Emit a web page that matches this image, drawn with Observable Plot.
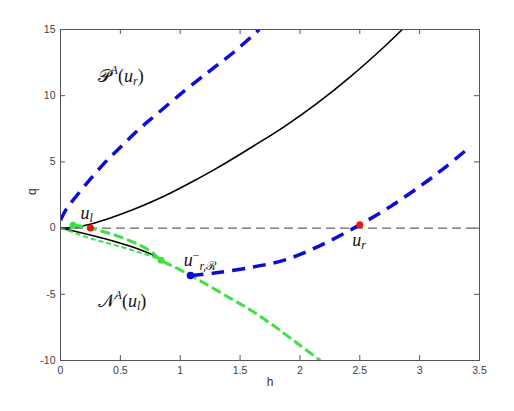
<!DOCTYPE html>
<html><head><meta charset="utf-8">
<script src="https://cdn.jsdelivr.net/npm/d3@7"></script>
<script src="https://cdn.jsdelivr.net/npm/@observablehq/plot@0.6"></script>
<style>body{margin:0;background:#fff}</style>
</head><body><div id="chart"></div>
<script>
// ---- data ----
const xTicks = [0, 0.5, 1, 1.5, 2, 2.5, 3, 3.5];
const yTicks = [-10, -5, 0, 5, 10, 15];

const blackUpperH = [0, 0.1, 0.24, 0.38, 0.515, 0.7, 0.877, 1.1, 1.31, 1.63, 1.87, 2.14, 2.42, 2.7, 2.855];
const blackUpperQ = [0, 0.05, 0.27, 0.65, 1.08, 1.75, 2.46, 3.5, 4.55, 6.3, 7.67, 9.4, 11.42, 13.66, 15];

const blackLowerH = [0, 0.1, 0.24, 0.38, 0.515, 0.654, 0.76, 0.84];
const blackLowerQ = [0, -0.2, -0.5, -0.83, -1.19, -1.6, -1.97, -2.36];

const greenThinH = [0, 0.1, 0.24, 0.38, 0.515, 0.654, 0.79, 0.84];
const greenThinQ = [0, -0.3, -0.75, -1.1, -1.44, -1.82, -2.22, -2.4];

const greenThickH = [0.105, 0.18, 0.25, 0.376, 0.515, 0.654, 0.76, 0.84, 1.0, 1.086, 1.2, 1.4, 1.59, 1.8, 2.0, 2.17];
const greenThickQ = [0.22, 0.14, 0, -0.31, -0.72, -1.25, -1.8, -2.42, -3.15, -3.58, -4.15, -5.2, -6.2, -7.5, -8.85, -10];

const blueUpperH = [0, 0.05, 0.125, 0.24, 0.376, 0.515, 0.654, 0.79, 1.04, 1.25, 1.45, 1.66];
const blueUpperQ = [0.6, 1.45, 2.33, 3.6, 5.0, 6.24, 7.45, 8.5, 10.4, 11.9, 13.3, 15];

const blueLowerH = [1.086, 1.3, 1.6, 1.87, 2.15, 2.45, 2.75, 3.01, 3.2, 3.43];
const blueLowerQ = [-3.58, -3.38, -2.95, -2.42, -1.4, 0, 1.6, 3.2, 4.5, 6.2];

const redPtsH = [0.25, 2.5];
const redPtsQ = [0, 0.25];
const greenPtsH = [0.105, 0.84];
const greenPtsQ = [0.22, -2.42];
const bluePtsH = [1.086];
const bluePtsQ = [-3.58];

const labels = [
  {id: "lblP", h: 0.31, q: 11.5},
  {id: "lblN", h: 0.31, q: -5.55},
  {id: "lblUl", h: 0.167, q: 1.15},
  {id: "lblUr", h: 2.437, q: -0.9},
  {id: "lblUbar", h: 1.03, q: -2.45}
];
const labelMarkup = {
  lblP: '𝒫<tspan font-size="12" font-style="italic" dy="-8">A</tspan><tspan dy="8">(</tspan><tspan font-style="italic">u</tspan><tspan font-size="12" font-style="italic" dy="3">r</tspan><tspan dy="-3">)</tspan>',
  lblN: '𝒩<tspan font-size="12" font-style="italic" dy="-8">A</tspan><tspan dy="8">(</tspan><tspan font-style="italic">u</tspan><tspan font-size="12" font-style="italic" dy="3">l</tspan><tspan dy="-3">)</tspan>',
  lblUl: '<tspan font-style="italic">u</tspan><tspan font-size="12" font-style="italic" dy="3">l</tspan>',
  lblUr: '<tspan font-style="italic">u</tspan><tspan font-size="12" font-style="italic" dy="3">r</tspan>',
  lblUbar: '<tspan font-style="italic">u</tspan><tspan font-size="12" dy="-7">−</tspan><tspan font-size="12" font-style="italic" dy="11">r,</tspan><tspan font-size="12">ℛ</tspan>'
};

const pts = (H, Q) => H.map((h, i) => ({h, q: Q[i]}));

// ---- layout ----
const W = 514, HH = 411, mL = 60, mR = 35, mT = 29, mB = 51;
const innerW = W - mL - mR, innerH = HH - mT - mB;
const axisColor = "#555";
const blue = "#0c0cd6", green = "#3fe03f", red = "#ee1515";

const lineOpts = {x: "h", y: "q", curve: "catmull-rom", clip: true, strokeLinecap: "butt"};

const chart = Plot.plot({
  width: W, height: HH,
  marginLeft: mL, marginRight: mR, marginTop: mT, marginBottom: mB,
  x: {domain: [0, 3.5]},
  y: {domain: [-10, 15]},
  style: {fontFamily: "Liberation Sans, Arial, sans-serif", fontSize: "10.5px", color: "#404040", background: "white", overflow: "visible"},
  marks: [
    Plot.ruleY([0], {stroke: "#666", strokeWidth: 1.2, strokeDasharray: "9,5"}),
    Plot.line(pts(blackUpperH, blackUpperQ), {...lineOpts, stroke: "#000", strokeWidth: 1.6}),
    Plot.line(pts(blackLowerH, blackLowerQ), {...lineOpts, stroke: "#000", strokeWidth: 1.6}),
    Plot.line(pts(greenThinH, greenThinQ), {...lineOpts, stroke: green, strokeWidth: 2, strokeDasharray: "5,3"}),
    Plot.line(pts(greenThickH, greenThickQ), {...lineOpts, stroke: green, strokeWidth: 3, strokeDasharray: "10,4"}),
    Plot.line(pts(blueUpperH, blueUpperQ), {...lineOpts, stroke: blue, strokeWidth: 3.5, strokeDasharray: "13,8"}),
    Plot.line(pts(blueLowerH, blueLowerQ), {...lineOpts, stroke: blue, strokeWidth: 3.5, strokeDasharray: "13,8"}),
    Plot.dot(pts(greenPtsH, greenPtsQ), {x: "h", y: "q", r: 3.5, fill: green, stroke: "none"}),
    Plot.dot(pts(redPtsH, redPtsQ), {x: "h", y: "q", r: 3.5, fill: red, stroke: "none"}),
    Plot.dot(pts(bluePtsH, bluePtsQ), {x: "h", y: "q", r: 3.8, fill: blue, stroke: "none"}),
    Plot.frame({stroke: axisColor, strokeWidth: 1}),
    Plot.tickX(xTicks, {x: d => d, insetTop: innerH - 5, stroke: axisColor}),
    Plot.tickX(xTicks, {x: d => d, insetBottom: innerH - 5, stroke: axisColor}),
    Plot.tickY(yTicks, {y: d => d, insetRight: innerW - 5, stroke: axisColor}),
    Plot.tickY(yTicks, {y: d => d, insetLeft: innerW - 5, stroke: axisColor}),
    Plot.axisX(xTicks, {tickSize: 0, tickPadding: 6, label: null, tickFormat: d => String(d), fill: "#404040"}),
    Plot.axisY(yTicks, {tickSize: 0, tickPadding: 5, label: null, tickFormat: d => String(d), fill: "#404040"}),
    Plot.text(["h"], {frameAnchor: "bottom", dy: 25, fontSize: 12, fill: "#333"}),
    Plot.text(["q"], {frameAnchor: "left", dx: -28, rotate: -90, fontSize: 12, fill: "#333"}),
    Plot.text(labels, {x: "h", y: "q", text: "id", textAnchor: "start", fontSize: 18, fontFamily: "Liberation Serif, DejaVu Serif, serif", fill: "#111"})
  ]
});
document.getElementById("chart").appendChild(chart);

// rich math text for the annotation labels
chart.querySelectorAll("text").forEach(t => {
  const m = labelMarkup[t.textContent.trim()];
  if (m) t.innerHTML = m;
});
</script>
</body></html>
